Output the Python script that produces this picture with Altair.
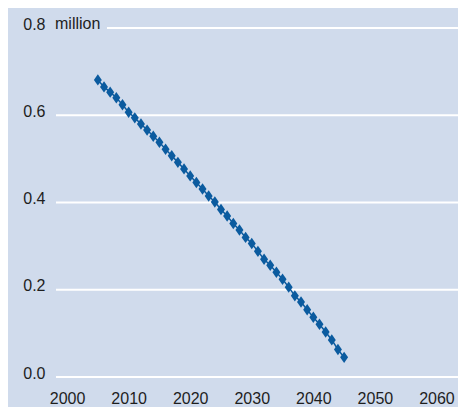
import altair as alt
import pandas as pd

years = list(range(2005, 2046))
values = [0.681, 0.665, 0.653, 0.640, 0.624, 0.607, 0.594, 0.580, 0.566, 0.552,
          0.538, 0.522, 0.507, 0.492, 0.477, 0.461, 0.446, 0.431, 0.415, 0.401,
          0.384, 0.369, 0.352, 0.337, 0.320, 0.306, 0.288, 0.270, 0.256, 0.240,
          0.224, 0.206, 0.186, 0.172, 0.154, 0.137, 0.121, 0.103, 0.085, 0.063,
          0.045]
x_ticks = [2000, 2010, 2020, 2030, 2040, 2050, 2060]
y_ticks = [0.0, 0.2, 0.4, 0.6, 0.8]
grid_full = [0.0, 0.2, 0.4, 0.6]
grid_top = [0.8]
unit_label = "million"

df = pd.DataFrame({"year": years, "value": values})
grid_df = pd.DataFrame({"y": grid_full})
top_df = pd.DataFrame({"y": grid_top})
unit_df = pd.DataFrame({"y": grid_top, "t": [unit_label]})

W, H = 402, 349
BG = "#d0dbec"
BLUE = "#0b5b9f"
FONT = "Liberation Sans"
TXT = "#1e1e1e"

xs = alt.Scale(domain=[1998.2, 2063.5], nice=False, zero=False)
ys = alt.Scale(domain=[0, 0.8], nice=False)

x_axis = alt.Axis(values=x_ticks, format="d", grid=False, domain=False,
                  ticks=False, tickSize=0, labelPadding=13,
                  labelFont=FONT, labelFontSize=16, labelColor=TXT,
                  labelBaseline="top", title=None)
y_axis = alt.Axis(values=y_ticks, format=".1f", grid=False, domain=False,
                  ticks=False, tickSize=0, labelPadding=11,
                  labelFont=FONT, labelFontSize=16, labelColor=TXT,
                  labelBaseline="alphabetic", labelOffset=1, title=None)

rules = alt.Chart(grid_df).mark_rule(color="white", strokeWidth=2).encode(
    x=alt.value(0), x2=alt.value(W),
    y=alt.Y("y:Q", scale=ys, axis=y_axis),
)
rule_top = alt.Chart(top_df).mark_rule(color="white", strokeWidth=2).encode(
    x=alt.value(51), x2=alt.value(W),
    y=alt.Y("y:Q", scale=ys, axis=y_axis),
)
unit = alt.Chart(unit_df).mark_text(
    align="left", baseline="alphabetic", dy=1, font=FONT, fontSize=16,
    color=TXT, clip=False,
).encode(
    x=alt.value(-1),
    y=alt.Y("y:Q", scale=ys, axis=y_axis),
    text="t:N",
)

line = alt.Chart(df).mark_line(color=BLUE, strokeWidth=1.5).encode(
    x=alt.X("year:Q", scale=xs, axis=x_axis),
    y=alt.Y("value:Q", scale=ys, axis=y_axis),
)
points = alt.Chart(df).mark_point(
    shape="M0,-1L0.7,0L0,1L-0.7,0Z", filled=True, size=130, color=BLUE, opacity=1,
).encode(
    x=alt.X("year:Q", scale=xs, axis=x_axis),
    y=alt.Y("value:Q", scale=ys, axis=y_axis),
)

chart = alt.layer(rules, rule_top, unit, line, points).properties(
    width=W, height=H,
    background=BG,
    autosize=alt.AutoSizeParams(type="none"),
    padding={"left": 48, "top": 20, "right": 0, "bottom": 30},
).configure_view(stroke=None)

chart.save("out.html", embed_options={"renderer": "svg", "actions": False})
